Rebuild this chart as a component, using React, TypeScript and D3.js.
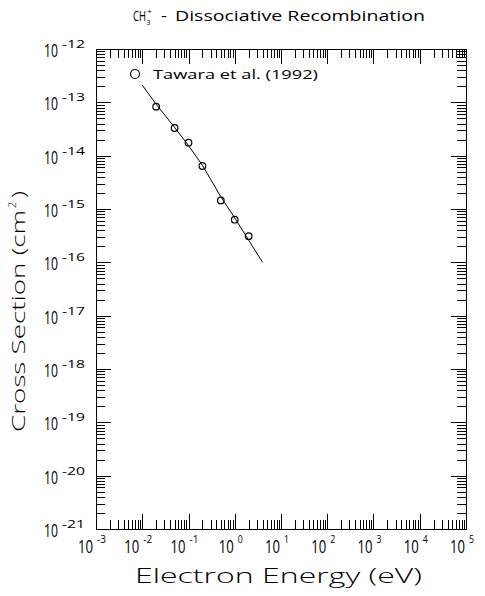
import React from 'react';
import * as d3 from 'd3';

const dataEnergy = [0.02, 0.05, 0.1, 0.2, 0.5, 1, 2];
const dataSigma = [8.3e-14, 3.3e-14, 1.75e-14, 6.4e-15, 1.45e-15, 6.3e-16, 3.1e-16];
const fitEnergy = [0.01, 0.02, 0.05, 0.1, 0.2, 0.5, 1, 2, 4];
const fitSigma = [2.1e-13, 9.2e-14, 3.4e-14, 1.55e-14, 6.6e-15, 1.7e-15, 6.8e-16, 2.6e-16, 1.0e-16];
const xTickExps = [-3, -2, -1, 0, 1, 2, 3, 4, 5];
const yTickExps = [-12, -13, -14, -15, -16, -17, -18, -19, -20, -21];
const minorMults = [2, 3, 4, 5, 6, 7, 8, 9];
const titleMain = 'CH';
const titleRest = 'Dissociative Recombination';
const legendLabel = 'Tawara et al. (1992)';
const xTitle = 'Electron Energy (eV)';
const yTitle = 'Cross Section (cm';

const W = 485, H = 596;
const L = 96, T = 49, R = 466, B = 529;
const FONT = "'Open Sans', 'Liberation Sans', sans-serif";

export default function App() {
  const x = d3.scaleLog().domain([1e-3, 1e5]).range([L, R]);
  const y = d3.scaleLog().domain([1e-21, 1e-12]).range([B, T]);
  const line = d3.line<number>()
    .x((_, i) => x(fitEnergy[i]))
    .y((d) => y(d));

  const xMajors = xTickExps.map((e) => Math.pow(10, e));
  const yMajors = yTickExps.map((e) => Math.pow(10, e));
  const xMinors: number[] = [];
  xTickExps.slice(0, -1).forEach((e) => minorMults.forEach((m) => xMinors.push(m * Math.pow(10, e))));
  const yMinors: number[] = [];
  yTickExps.slice(1).forEach((e) => minorMults.forEach((m) => yMinors.push(m * Math.pow(10, e))));

  const MAJ = 15, MIN = 9;
  const px = (v: number) => Math.round(v) + 0.5;

  return (
    <div style={{ position: 'absolute', left: 0, top: 0 }}>
      <svg width={W} height={H} style={{ display: 'block', background: '#fff' }} fontFamily={FONT} fill="#000">
        <rect x={0} y={0} width={W} height={H} fill="#fff" />
        {/* title */}
        <g fontWeight={400}>
          <text x={133} y={21} fontSize={14} textLength={13} lengthAdjust="spacingAndGlyphs">{titleMain}</text>
          <text x={146.5} y={25} fontSize={8} textLength={4} lengthAdjust="spacingAndGlyphs">3</text>
          <text x={147} y={14} fontSize={8} textLength={5} lengthAdjust="spacingAndGlyphs">+</text>
          <text x={161} y={21} fontSize={14} textLength={6} lengthAdjust="spacingAndGlyphs">-</text>
          <text x={175} y={21} fontSize={14} textLength={250} lengthAdjust="spacingAndGlyphs">{titleRest}</text>
        </g>

        <g stroke="#000" strokeWidth={1} shapeRendering="crispEdges" fill="none">
          <rect x={L + 0.5} y={T + 0.5} width={R - L} height={B - T} />
          {xMajors.map((v, i) => (
            <g key={'xm' + i}>
              <line x1={px(x(v))} x2={px(x(v))} y1={B} y2={B - MAJ} />
              <line x1={px(x(v))} x2={px(x(v))} y1={T} y2={T + MAJ} />
            </g>
          ))}
          {xMinors.map((v, i) => (
            <g key={'xn' + i}>
              <line x1={px(x(v))} x2={px(x(v))} y1={B} y2={B - MIN} />
              <line x1={px(x(v))} x2={px(x(v))} y1={T} y2={T + MIN} />
            </g>
          ))}
          {yMajors.map((v, i) => (
            <g key={'ym' + i}>
              <line x1={L} x2={L + MAJ} y1={px(y(v))} y2={px(y(v))} />
              <line x1={R} x2={R - MAJ} y1={px(y(v))} y2={px(y(v))} />
            </g>
          ))}
          {yMinors.map((v, i) => (
            <g key={'yn' + i}>
              <line x1={L} x2={L + MIN} y1={px(y(v))} y2={px(y(v))} />
              <line x1={R} x2={R - MIN} y1={px(y(v))} y2={px(y(v))} />
            </g>
          ))}
        </g>

        {/* y tick labels */}
        <g fontWeight={400}>
          {yTickExps.map((e, i) => {
            const yy = y(Math.pow(10, e));
            return (
              <g key={'yl' + i}>
                <text x={44} y={yy + 8} fontSize={18} textLength={14} lengthAdjust="spacingAndGlyphs">10</text>
                <text x={62} y={yy - 1} fontSize={11} textLength={23} lengthAdjust="spacingAndGlyphs">{'-' + String(-e)}</text>
              </g>
            );
          })}
        </g>

        {/* x tick labels */}
        <g fontWeight={400}>
          {xTickExps.map((e, i) => {
            const xx = x(Math.pow(10, e));
            const sup = e < 0 ? '-' + String(-e) : String(e);
            const sw = e < 0 ? 9 : 5;
            const total = 15 + 4 + sw;
            const x0 = xx - total / 2 - 4;
            return (
              <g key={'xl' + i}>
                <text x={x0} y={553} fontSize={18} textLength={15} lengthAdjust="spacingAndGlyphs">10</text>
                <text x={x0 + 19} y={543} fontSize={10} textLength={sw} lengthAdjust="spacingAndGlyphs">{sup}</text>
              </g>
            );
          })}
        </g>

        {/* axis titles */}
        <g fontWeight={300}>
          <text x={135} y={583} fontSize={21} textLength={287} lengthAdjust="spacingAndGlyphs">{xTitle}</text>
          <g transform="translate(25,432) rotate(-90)">
            <text x={0} y={0} fontSize={19} textLength={222} lengthAdjust="spacingAndGlyphs">{yTitle}</text>
            <text x={224} y={-9} fontSize={11} textLength={6} lengthAdjust="spacingAndGlyphs">2</text>
            <text x={234} y={0} fontSize={19} textLength={7} lengthAdjust="spacingAndGlyphs">)</text>
          </g>
        </g>

        {/* legend */}
        <circle cx={135} cy={74} r={4.5} fill="none" stroke="#000" strokeWidth={1.2} />
        <text x={153} y={79} fontSize={13} fontWeight={400} textLength={165} lengthAdjust="spacingAndGlyphs">{legendLabel}</text>

        {/* fit line */}
        <path d={line(fitSigma) || ''} fill="none" stroke="#000" strokeWidth={1} />

        {/* data points */}
        {dataEnergy.map((e, i) => (
          <circle key={'p' + i} cx={x(e)} cy={y(dataSigma[i])} r={3.3} fill="none" stroke="#000" strokeWidth={1.2} />
        ))}
      </svg>
    </div>
  );
}
